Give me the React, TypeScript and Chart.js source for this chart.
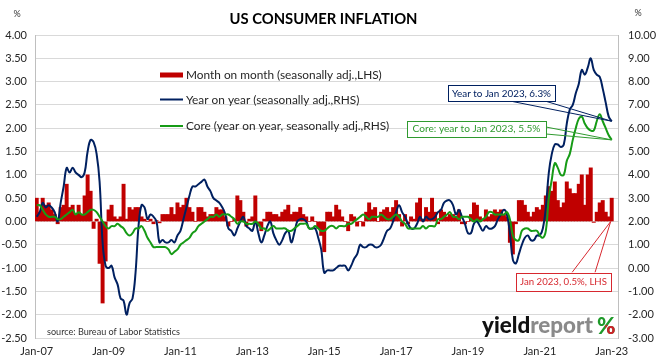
import React, { useEffect, useRef } from 'react';
import { Chart, registerables } from 'chart.js';

Chart.register(...registerables);

// ---------------- data (monthly, Jan 2007 .. Jan 2023) ----------------
const monthOnMonth = [
  0.5, 0.2, 0.5, 0.35, 0.4, 0.25, 0.15, -0.05, 0.3, 0.35, 0.8, 0.3,
  0.35, 0.15, 0.35, 0.15, 0.55, 1.0, 0.65, -0.15, 0.05, -0.9, -1.75, -0.85,
  0.25, 0.35, 0.1, 0.05, 0.1, 0.8, 0.05, 0.3, 0.25, 0.3, 0.3, 0.1,
  0.05, 0.0, 0.05, -0.05, 0.02, -0.03, 0.15, 0.15, 0.15, 0.3, 0.15, 0.4,
  0.3, 0.35, 0.5, 0.3, 0.2, 0.0, 0.3, 0.3, 0.2, 0.1, 0.15, 0.15,
  0.3, 0.25, 0.25, 0.1, -0.1, 0.0, 0.05, 0.55, 0.45, 0.2, -0.1, 0.05,
  0.1, 0.55, -0.1, -0.2, 0.05, 0.2, 0.2, 0.15, 0.15, 0.1, 0.2, 0.25,
  0.35, 0.15, 0.2, 0.2, 0.3, 0.15, 0.1, 0.0, 0.1, 0.0, -0.15, -0.3,
  -0.65, 0.2, 0.2, 0.1, 0.35, 0.25, 0.1, 0.0, -0.2, 0.15, 0.1, -0.1,
  0.0, -0.1, 0.2, 0.4, 0.25, 0.3, 0.0, 0.2, 0.25, 0.3, 0.2, 0.3,
  0.45, 0.15, -0.1, 0.15, -0.05, 0.1, 0.05, 0.4, 0.5, 0.05, 0.3, 0.2,
  0.5, 0.2, -0.05, 0.25, 0.2, 0.1, 0.15, 0.15, 0.1, 0.25, -0.05, -0.05,
  0.0, 0.15, 0.4, 0.35, 0.1, 0.05, 0.25, 0.1, 0.15, 0.25, 0.2, 0.25,
  0.15, 0.1, -0.45, -0.7, -0.05, 0.45, 0.45, 0.35, 0.2, 0.1, 0.2, 0.3,
  0.25, 0.35, 0.55, 0.75, 0.65, 0.85, 0.45, 0.3, 0.4, 0.85, 0.7, 0.6,
  0.6, 0.8, 1.0, 0.35, 1.0, 1.15, -0.02, 0.2, 0.4, 0.45, 0.2, 0.1,
  0.5,
];

const yearOnYear = [
  2.2, 2.4, 2.8, 2.6, 2.7, 2.6, 2.4, 2.0, 2.8, 3.5, 4.3, 4.1,
  4.3, 4.1, 4.0, 3.9, 4.1, 5.0, 5.5, 5.4, 4.9, 3.7, 1.1, 0.1,
  0.0, 0.1, -0.4, -0.7, -1.3, -1.4, -2.0, -1.5, -1.3, -0.2, 1.8, 2.7,
  2.6, 2.1, 2.3, 2.2, 2.0, 1.1, 1.2, 1.1, 1.1, 1.2, 1.1, 1.4,
  1.6, 2.1, 2.6, 3.1, 3.5, 3.5, 3.6, 3.7, 3.8, 3.5, 3.3, 3.0,
  2.9, 2.8, 2.6, 2.3, 1.7, 1.6, 1.4, 1.7, 2.0, 2.2, 1.8, 1.7,
  1.6, 2.0, 1.5, 1.1, 1.4, 1.8, 2.0, 1.5, 1.2, 1.0, 1.2, 1.5,
  1.6, 1.1, 1.5, 2.0, 2.1, 2.1, 2.0, 1.7, 1.7, 1.7, 1.3, 0.8,
  -0.2, -0.1, -0.1, -0.1, 0.0, 0.1, 0.1, 0.1, -0.1, 0.1, 0.4, 0.6,
  1.0, 0.9, 0.9, 1.0, 1.0, 0.9, 0.9, 1.0, 1.3, 1.6, 1.7, 2.0,
  2.4, 2.7, 2.4, 2.2, 1.9, 1.7, 1.7, 1.9, 2.2, 2.0, 2.2, 2.1,
  2.1, 2.2, 2.4, 2.5, 2.8, 2.9, 2.9, 2.7, 2.3, 2.5, 2.2, 1.9,
  1.5, 1.5, 1.9, 2.0, 1.8, 1.6, 1.8, 1.7, 1.7, 1.8, 2.1, 2.3,
  2.5, 2.3, 1.5, 0.35, 0.2, 0.6, 1.0, 1.3, 1.4, 1.2, 1.2, 1.4,
  1.4, 1.7, 2.6, 4.1, 4.9, 5.3, 5.3, 5.2, 5.3, 6.2, 6.8, 7.0,
  7.5, 7.9, 8.5, 8.3, 8.6, 9.0, 8.5, 8.3, 8.2, 7.7, 7.1, 6.5,
  6.3,
];

const coreYearOnYear = [
  2.7, 2.7, 2.5, 2.3, 2.2, 2.2, 2.2, 2.1, 2.1, 2.2, 2.3, 2.4,
  2.5, 2.3, 2.4, 2.3, 2.3, 2.4, 2.5, 2.5, 2.4, 2.2, 2.0, 1.8,
  1.7, 1.8, 1.8, 1.9, 1.8, 1.7, 1.5, 1.4, 1.5, 1.7, 1.7, 1.8,
  1.6, 1.3, 1.1, 0.9, 0.9, 0.9, 0.9, 0.9, 0.8, 0.6, 0.7, 0.8,
  1.0, 1.1, 1.2, 1.3, 1.5, 1.6, 1.8, 1.9, 2.0, 2.1, 2.2, 2.2,
  2.3, 2.2, 2.3, 2.3, 2.3, 2.2, 2.1, 1.9, 2.0, 2.0, 1.9, 1.9,
  1.9, 2.0, 1.9, 1.7, 1.7, 1.6, 1.7, 1.8, 1.7, 1.7, 1.7, 1.7,
  1.6, 1.6, 1.7, 1.8, 1.9, 1.9, 1.9, 1.7, 1.7, 1.8, 1.7, 1.6,
  1.6, 1.7, 1.8, 1.8, 1.7, 1.8, 1.8, 1.8, 1.9, 1.9, 2.0, 2.1,
  2.2, 2.3, 2.2, 2.1, 2.2, 2.2, 2.2, 2.3, 2.2, 2.1, 2.1, 2.2,
  2.3, 2.2, 2.0, 1.9, 1.7, 1.7, 1.7, 1.7, 1.7, 1.8, 1.7, 1.8,
  1.8, 1.8, 2.1, 2.1, 2.2, 2.3, 2.4, 2.2, 2.2, 2.1, 2.2, 2.2,
  2.2, 2.1, 2.0, 2.1, 2.0, 2.1, 2.2, 2.4, 2.4, 2.3, 2.3, 2.3,
  2.3, 2.4, 2.1, 1.4, 1.2, 1.2, 1.6, 1.7, 1.7, 1.6, 1.6, 1.6,
  1.4, 1.3, 1.6, 3.0, 3.8, 4.5, 4.3, 4.0, 4.0, 4.6, 4.9, 5.5,
  6.0, 6.4, 6.5, 6.2, 6.0, 5.9, 5.9, 6.3, 6.6, 6.3, 6.0, 5.7,
  5.5,
];

const xTickLabels = ['Jan-07', 'Jan-09', 'Jan-11', 'Jan-13', 'Jan-15', 'Jan-17', 'Jan-19', 'Jan-21', 'Jan-23'];
const seriesLabels = [
  'Month on month (seasonally adj.,LHS)',
  'Year on year (seasonally adj.,RHS)',
  'Core (year on year, seasonally adj.,RHS)',
];
const titleText = 'US CONSUMER INFLATION';
const sourceText = 'source: Bureau of Labor Statistics';
const calloutYoY = 'Year to Jan 2023, 6.3%';
const calloutCore = 'Core: year to Jan 2023, 5.5%';
const calloutMoM = 'Jan 2023, 0.5%, LHS';

// ---------------- styles ----------------
const FONT = 'Lato, "Open Sans", sans-serif';
const RED = '#c00000';
const NAVY = '#002060';
const GREEN = '#169b16';
const MONTHS_PER_TICK = 24;

function fitFont(ctx: CanvasRenderingContext2D, text: string, weight: string, targetW: number): string {
  ctx.font = `${weight} 20px ${FONT}`;
  const w = ctx.measureText(text).width;
  const size = (20 * targetW) / w;
  return `${weight} ${size.toFixed(2)}px ${FONT}`;
}

function drawCallout(
  ctx: CanvasRenderingContext2D,
  text: string,
  color: string,
  box: { x: number; y: number; w: number; h: number },
  b1: [number, number],
  b2: [number, number],
  tip: [number, number],
  textW: number,
) {
  ctx.save();
  ctx.strokeStyle = color;
  ctx.lineWidth = 1;
  ctx.beginPath();
  ctx.moveTo(b1[0], b1[1]);
  ctx.lineTo(tip[0], tip[1]);
  ctx.lineTo(b2[0], b2[1]);
  ctx.stroke();
  ctx.fillStyle = '#ffffff';
  ctx.fillRect(box.x, box.y, box.w, box.h);
  ctx.strokeRect(Math.round(box.x) + 0.5, Math.round(box.y) + 0.5, Math.round(box.w), Math.round(box.h));
  ctx.fillStyle = color;
  ctx.font = fitFont(ctx, text, '400', textW);
  ctx.textAlign = 'center';
  ctx.textBaseline = 'middle';
  ctx.fillText(text, box.x + box.w / 2, box.y + box.h / 2 + 0.5);
  ctx.restore();
}

const decorPlugin = {
  id: 'decor',
  afterDatasetsDraw(chart: any) {
    const ctx: CanvasRenderingContext2D = chart.ctx;
    const { x, y, y1 } = chart.scales;
    const ds = chart.data.datasets;

    // legend (inside plot)
    ctx.save();
    const legendFont = fitFont(ctx, ds[0].label, '400', 196);
    const rows = [75, 99.5, 126];
    ds.forEach((d: any, i: number) => {
      const ry = rows[i];
      if (d.type === 'bar') {
        ctx.fillStyle = d.backgroundColor;
        ctx.fillRect(160, ry - 2.5, 23, 5);
      } else {
        ctx.strokeStyle = d.borderColor;
        ctx.lineWidth = 2;
        ctx.beginPath();
        ctx.moveTo(160, ry);
        ctx.lineTo(183, ry);
        ctx.stroke();
      }
      ctx.fillStyle = '#262626';
      ctx.font = legendFont;
      ctx.textAlign = 'left';
      ctx.textBaseline = 'middle';
      ctx.fillText(d.label, 186, ry + 0.5);
    });
    ctx.restore();

    const last = yearOnYear.length - 1;
    const lx = x.getPixelForValue(last);
    drawCallout(ctx, calloutYoY, NAVY, { x: 448, y: 85, w: 107, h: 16 }, [510, 101], [545, 101], [lx, y1.getPixelForValue(yearOnYear[last])], 99);
    drawCallout(ctx, calloutCore, '#2f9a2f', { x: 407, y: 120.5, w: 139, h: 15.5 }, [546, 127], [546, 134], [lx, y1.getPixelForValue(coreYearOnYear[last])], 128);
    drawCallout(ctx, calloutMoM, '#d7282f', { x: 516, y: 272.5, w: 95, h: 18 }, [572, 272.5], [595, 272.5], [lx - 1, y.getPixelForValue(0)], 87);
  },
  afterDraw(chart: any) {
    const ctx: CanvasRenderingContext2D = chart.ctx;
    ctx.save();
    // title
    ctx.fillStyle = '#000';
    ctx.font = fitFont(ctx, titleText, '700', 188);
    ctx.textAlign = 'center';
    ctx.textBaseline = 'middle';
    ctx.fillText(titleText, 323.5, 19.5);
    // % unit labels
    ctx.font = `400 9px ${FONT}`;
    ctx.fillStyle = '#333';
    ctx.fillText('%', 17, 14.5);
    ctx.fillText('%', 638, 13.5);
    // source
    ctx.font = fitFont(ctx, sourceText, '400', 133);
    ctx.textAlign = 'left';
    ctx.fillStyle = '#333';
    ctx.fillText(sourceText, 47, 332);
    // logo
    ctx.textBaseline = 'alphabetic';
    const logoFont = fitFont(ctx, 'yieldreport', '900', 111);
    ctx.font = logoFont;
    const wYield = ctx.measureText('yield').width;
    ctx.fillStyle = '#111';
    ctx.fillText('yield', 482, 333);
    ctx.fillStyle = '#8a8a8a';
    ctx.fillText('report', 482 + wYield, 333);
    const pw = ctx.measureText('%').width;
    const px = 597;
    ctx.fillStyle = '#1f9a2a';
    ctx.fillText('%', px, 334);
    ctx.save();
    ctx.beginPath();
    ctx.rect(px + pw * 0.45, 325, pw, 12);
    ctx.clip();
    ctx.fillStyle = '#d0202a';
    ctx.fillText('%', px, 334);
    ctx.restore();
    ctx.restore();
  },
};

export default function App() {
  const ref = useRef<HTMLCanvasElement | null>(null);

  useEffect(() => {
    document.body.style.margin = '0';
    const canvas = ref.current;
    if (!canvas) return;
    const toPts = (arr: number[]) => arr.map((v, i) => ({ x: i, y: v }));
    const tickFont = { family: FONT, size: 11 };
    const chart = new Chart(canvas, {
      type: 'bar',
      data: {
        datasets: [
          {
            type: 'bar',
            label: seriesLabels[0],
            data: toPts(monthOnMonth),
            backgroundColor: RED,
            borderWidth: 0,
            barThickness: 3.3,
            yAxisID: 'y',
            order: 3,
          } as any,
          {
            type: 'line',
            label: seriesLabels[1],
            data: toPts(yearOnYear),
            borderColor: NAVY,
            borderWidth: 2,
            pointRadius: 0,
            tension: 0.4,
            yAxisID: 'y1',
            order: 2,
          } as any,
          {
            type: 'line',
            label: seriesLabels[2],
            data: toPts(coreYearOnYear),
            borderColor: GREEN,
            borderWidth: 2,
            pointRadius: 0,
            tension: 0.4,
            yAxisID: 'y1',
            order: 1,
          } as any,
        ],
      },
      options: {
        responsive: false,
        animation: false,
        events: [],
        layout: { padding: { top: 35, left: 0, right: 0, bottom: 0 } },
        plugins: { legend: { display: false }, tooltip: { enabled: false }, title: { display: false } },
        scales: {
          x: {
            type: 'linear',
            offset: false,
            min: -0.57,
            max: 194.1,
            afterBuildTicks: (axis: any) => {
              axis.ticks = xTickLabels.map((_, k) => ({ value: k * MONTHS_PER_TICK }));
            },
            afterFit: (s: any) => {
              s.height = 25;
            },
            ticks: {
              autoSkip: false,
              maxRotation: 0,
              padding: 7,
              color: '#262626',
              font: tickFont,
              callback: (v: any) => xTickLabels[Math.round(Number(v) / MONTHS_PER_TICK)] ?? '',
            },
            grid: { display: false, drawTicks: false, offset: false },
            border: { display: false },
          },
          y: {
            type: 'linear',
            position: 'left',
            min: -2.5,
            max: 4,
            afterFit: (s: any) => {
              s.width = 35;
            },
            ticks: {
              stepSize: 0.5,
              padding: 8,
              color: '#262626',
              font: tickFont,
              callback: (v: any) => Number(v).toFixed(2),
            },
            grid: { color: '#d9d9d9', drawTicks: false },
            border: { display: true, color: '#bfbfbf' },
          },
          y1: {
            type: 'linear',
            position: 'right',
            min: -3,
            max: 10,
            afterFit: (s: any) => {
              s.width = 44;
            },
            ticks: {
              stepSize: 1,
              padding: 10,
              color: '#262626',
              font: tickFont,
              callback: (v: any) => Number(v).toFixed(2),
            },
            grid: { display: false, drawTicks: false },
            border: { display: true, color: '#bfbfbf' },
          },
        },
      } as any,
      plugins: [decorPlugin],
    });
    return () => chart.destroy();
  }, []);

  return <canvas ref={ref} width={662} height={363} style={{ display: 'block' }} />;
}
